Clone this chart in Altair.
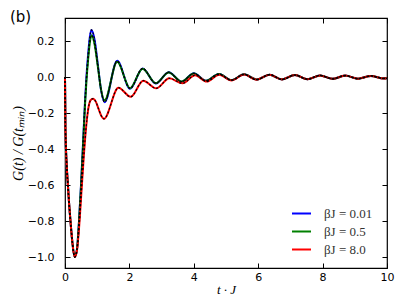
import altair as alt
import pandas as pd

# --- data ---
t_bg = [0.0, 0.015, 0.05, 0.09, 0.13, 0.17, 0.23, 0.30, 0.37, 0.435, 0.50, 0.565, 0.62, 0.665,
        0.72, 0.77, 0.82, 0.92, 1.02, 1.12, 1.23, 1.62, 2.02, 2.41, 2.82, 3.22, 3.62, 4.00,
        4.38, 4.78, 5.17, 5.56, 5.95, 6.35, 6.74, 7.14, 7.53, 7.92, 8.31, 8.70, 9.10, 9.50,
        9.90, 10.0]
g_blue = [0.0, -0.30, -0.48, -0.60, -0.71, -0.80, -0.92, -1.0, -0.96, -0.80, -0.59, -0.35, -0.14, 0.0,
          0.13, 0.22, 0.262, 0.206, 0.069, -0.073, -0.14, 0.09, -0.065, 0.048, -0.036, 0.027, -0.026, 0.021,
          -0.021, 0.017, -0.017, 0.015, -0.014, 0.013, -0.013, 0.011, -0.012, 0.009, -0.010, 0.008, -0.009, 0.006,
          -0.008, -0.007]
g_green = [0.0, -0.30, -0.48, -0.60, -0.71, -0.80, -0.92, -1.0, -0.96, -0.805, -0.60, -0.365, -0.16, -0.025,
           0.10, 0.19, 0.232, 0.181, 0.058, -0.07, -0.13, 0.085, -0.062, 0.046, -0.034, 0.025, -0.025, 0.020,
           -0.021, 0.017, -0.017, 0.015, -0.014, 0.013, -0.013, 0.011, -0.012, 0.009, -0.010, 0.008, -0.009, 0.006,
           -0.008, -0.007]
t_red = [0.0, 0.015, 0.05, 0.09, 0.13, 0.17, 0.23, 0.30, 0.37, 0.44, 0.51, 0.58, 0.65, 0.72, 0.79,
         0.87, 0.96, 1.04, 1.12, 1.21, 1.66, 2.04, 2.43, 2.83, 3.24, 3.65, 4.04, 4.40, 4.79, 5.17,
         5.56, 5.95, 6.35, 6.74, 7.14, 7.53, 7.92, 8.31, 8.70, 9.10, 9.50, 9.90, 10.0]
g_red = [0.0, -0.30, -0.48, -0.60, -0.71, -0.80, -0.92, -1.0, -0.965, -0.83, -0.64, -0.45, -0.29, -0.18, -0.13,
         -0.12, -0.138, -0.176, -0.213, -0.232, -0.059, -0.110, -0.020, -0.063, -0.007, -0.035, 0.010, -0.025, 0.013, -0.019,
         0.014, -0.015, 0.013, -0.013, 0.011, -0.012, 0.009, -0.010, 0.008, -0.009, 0.006, -0.008, -0.007]

labels = ["βJ = 0.01", "βJ = 0.5", "βJ = 8.0"]
colors = ["#0000ff", "#008000", "#ff0000"]
x_ticks = [0, 2, 4, 6, 8, 10]
y_ticks = [-1.0, -0.8, -0.6, -0.4, -0.2, 0.0, 0.2]

frames = []
for lab, tt, gg in [(labels[0], t_bg, g_blue), (labels[1], t_bg, g_green), (labels[2], t_red, g_red)]:
    frames.append(pd.DataFrame({"t": tt, "g": gg, "series": lab}))
df = pd.concat(frames, ignore_index=True)

xscale = alt.Scale(domain=[0, 10], nice=False, zero=False)
yscale = alt.Scale(domain=[-1.061, 0.328], nice=False, zero=False)

common_axis = dict(domain=False, grid=False, tickSize=5, offset=-5, tickColor="black",
                   tickWidth=1, labelFont="DejaVu Sans", labelFontSize=11, labelColor="black",
                   labelFlush=False, labelOverlap=False)

x_bottom = alt.Axis(values=x_ticks, format="d", orient="bottom", labelPadding=3,
                    title="t · J", titleFont="Liberation Serif", titleFontStyle="italic",
                    titleFontSize=13, titleFontWeight="normal", titlePadding=1, titleColor="black",
                    **common_axis)
y_left = alt.Axis(values=y_ticks, format=".1f", orient="left", labelPadding=11,
                  title="G(t) / G(tₘᵢₙ)", titleFont="Liberation Serif", titleFontStyle="italic",
                  titleFontSize=14, titleFontWeight="normal", titlePadding=2, titleColor="black",
                  **common_axis)
x_top = alt.Axis(values=x_ticks, orient="top", labels=False, title=None, **common_axis)
y_right = alt.Axis(values=y_ticks, orient="right", labels=False, title=None, **common_axis)

colored = alt.Chart(df).mark_line(interpolate="monotone", strokeWidth=2).encode(
    x=alt.X("t:Q", scale=xscale, axis=x_bottom),
    y=alt.Y("g:Q", scale=yscale, axis=y_left),
    color=alt.Color("series:N", scale=alt.Scale(domain=labels, range=colors),
                    legend=alt.Legend(title=None, orient="none", legendX=226, legendY=185,
                                      symbolType="stroke", symbolSize=361, symbolStrokeWidth=2,
                                      labelFont="Liberation Serif", labelFontSize=13,
                                      labelColor="#333333", labelOffset=12, rowPadding=0,
                                      padding=0)),
)

dashed = alt.Chart(df).mark_line(interpolate="monotone", color="black", strokeWidth=1.2,
                                 strokeDash=[2, 2]).encode(
    x=alt.X("t:Q", scale=xscale, axis=x_top),
    y=alt.Y("g:Q", scale=yscale, axis=y_right),
    detail="series:N",
)

chart = alt.layer(colored, dashed).resolve_axis(x="independent", y="independent").properties(
    width=322, height=250,
    autosize=alt.AutoSizeParams(type="none"),
    padding={"left": 57, "top": 10, "right": 12, "bottom": 29},
    title=alt.TitleParams(text="(b)", anchor="start", frame="group", font="DejaVu Sans",
                          fontSize=15, fontWeight="normal", color="black",
                          baseline="alphabetic", offset=0, dx=-55, dy=19),
).configure_view(stroke="black", strokeWidth=1.2)

chart.save("out.html", embed_options={"renderer": "svg", "actions": False})
